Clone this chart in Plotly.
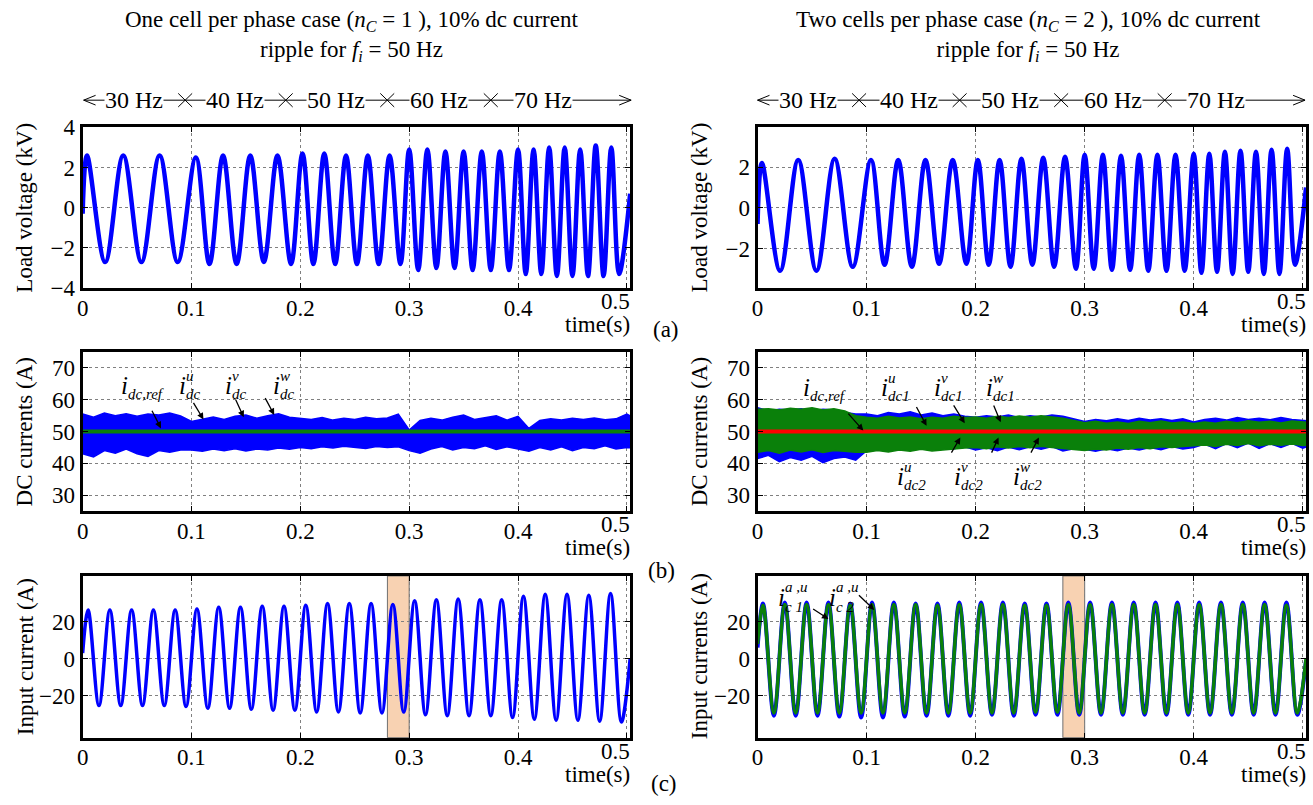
import plotly.graph_objects as go

W, H = 1313, 805
SERIF = "Liberation Serif"
BLUE = "#0000ff"
GREEN = "#0a800a"
RED = "#ff0000"
FS = 23

# ---------------- data ----------------
T_END = 0.503
X_TICKS = [0, 0.1, 0.2, 0.3, 0.4, 0.5]
X_TICKTEXT = ["0", "0.1", "0.2", "0.3", "0.4", ""]
FREQ_LABELS = ["30 Hz", "40 Hz", "50 Hz", "60 Hz", "70 Hz"]

# load voltage: extrema (peaks / troughs) of the waveform, kV
T_V = [0, 0.004, 0.0207, 0.0373, 0.054, 0.0707, 0.0873, 0.104, 0.1165, 0.129,
       0.1415, 0.154, 0.1665, 0.179, 0.1915, 0.202, 0.212, 0.222, 0.232, 0.242,
       0.252, 0.262, 0.272, 0.282, 0.292, 0.300, 0.3083, 0.3167, 0.325, 0.3333,
       0.3417, 0.35, 0.3583, 0.3667, 0.375, 0.3833, 0.3917, 0.400, 0.4071, 0.4143,
       0.4214, 0.4286, 0.4357, 0.4429, 0.45, 0.4571, 0.4643, 0.4714, 0.4786, 0.4857,
       0.4929, 0.503]
VL = [-0.3, 2.6, -2.7, 2.6, -2.7, 2.6, -2.7, 2.5, -2.8, 2.6,
      -2.8, 2.6, -2.7, 2.6, -2.8, 2.7, -2.8, 2.7, -2.8, 2.6,
      -2.8, 2.6, -2.8, 2.6, -2.8, 2.9, -3.1, 2.9, -3.0, 2.8,
      -3.0, 2.8, -3.1, 2.8, -3.1, 2.8, -3.1, 2.9, -3.3, 2.9,
      -3.3, 3.0, -3.4, 3.0, -3.4, 2.9, -3.4, 3.1, -3.4, 3.0,
      -3.3, 0.7]
VR = [-0.8, 2.2, -3.1, 2.35, -3.1, 2.4, -2.9, 2.35, -2.8, 2.35,
      -2.9, 2.35, -2.75, 2.35, -2.75, 2.35, -2.8, 2.35, -2.9, 2.4,
      -2.8, 2.45, -2.9, 2.5, -3.0, 2.6, -3.0, 2.6, -3.05, 2.55,
      -3.05, 2.6, -3.1, 2.6, -3.1, 2.6, -3.1, 2.65, -3.2, 2.65,
      -3.15, 2.75, -3.25, 2.8, -3.15, 2.75, -3.25, 2.85, -3.25, 2.9,
      -2.8, 1.0]

# dc currents: envelope of the rippled band, sampled every 10 ms, A
DC_T0 = 0
DC_DT = 0.01
DC_REF = 50
DCL_UP = [55.5, 54.5, 55.8, 55.0, 55.6, 54.8, 55.5, 55.2, 55.8, 54.9,
          53.2, 54.0, 54.6, 53.8, 54.8, 55.2, 54.2, 55.0, 55.6, 54.5,
          54.2, 53.8, 54.4, 53.6, 54.2, 53.8, 54.5, 54.0, 54.3, 55.5,
          50.5, 53.5, 54.2, 53.6, 54.5, 55.2, 53.8, 54.4, 55.0, 53.6,
          54.8, 51.0, 53.5, 54.0, 53.6, 54.2, 53.8, 54.3, 53.7, 54.0,
          55.5, 53.5]
DCL_LO = [43.0, 42.0, 44.0, 43.2, 44.5, 43.0, 42.2, 44.0, 43.5, 44.2,
          44.2, 43.8, 44.5, 44.0, 44.6, 43.9, 44.5, 44.2, 44.8, 44.4,
          45.0, 44.6, 45.2, 44.8, 45.4, 45.0, 44.7, 45.3, 45.0, 45.2,
          44.0, 43.2, 44.5, 45.3, 44.2, 45.0, 44.6, 45.5, 44.4, 45.2,
          44.5, 43.8, 45.0, 44.2, 45.2, 44.0, 45.0, 44.6, 45.5, 44.5,
          45.0, 44.8]
DCR_B_UP = [57.5, 56.5, 57.0, 56.8, 57.2, 56.5, 57.0, 56.8, 56.0, 55.5,
            55.5, 55.0, 56.0, 55.5, 56.2, 55.2, 55.8, 55.0, 55.5, 54.8,
            54.5, 55.0, 54.6, 55.2, 54.4, 55.0, 54.6, 55.2, 54.8, 54.0,
            53.2, 53.8, 53.4, 54.0, 53.5, 54.2, 53.6, 54.0, 53.5, 54.0,
            53.0, 53.8, 54.2, 53.6, 54.4, 53.8, 54.2, 53.7, 54.4, 53.8,
            53.5, 53.2]
DCR_B_LO = [41.5, 42.5, 40.5, 41.8, 41.0, 42.2, 40.2, 41.5, 42.0, 41.0,
            44.0, 44.5, 44.2, 44.8, 44.3, 44.9, 44.5, 45.0, 44.6, 45.2,
            44.2, 44.9, 44.0, 45.1, 44.3, 45.2, 44.4, 45.3, 43.9, 44.6,
            44.4, 43.8, 44.6, 44.0, 44.8, 44.2, 45.0, 44.3, 45.3, 44.5,
            45.0, 46.1, 44.6, 46.2, 44.9, 46.4, 44.7, 46.2, 45.0, 46.3,
            44.8, 46.0]
DCR_G_UP = [57.0, 57.2, 56.8, 57.3, 57.0, 57.5, 56.8, 57.2, 56.5, 55.0,
            54.5, 54.2, 54.8, 54.3, 54.6, 54.0, 54.5, 54.2, 54.8, 54.4,
            54.6, 54.2, 54.8, 54.4, 54.9, 54.5, 55.0, 54.6, 54.2, 53.5,
            52.8, 53.2, 52.6, 53.0, 52.5, 53.2, 52.8, 53.3, 52.7, 53.0,
            52.5, 53.0, 52.6, 53.2, 52.8, 53.4, 52.9, 53.2, 52.7, 53.3,
            53.0, 52.8]
DCR_G_LO = [43.5, 44.0, 43.2, 44.2, 43.6, 44.3, 43.4, 44.0, 43.8, 43.5,
            43.5, 44.0, 43.6, 44.2, 43.8, 44.4, 43.9, 44.3, 44.5, 44.8,
            45.0, 44.6, 45.2, 44.8, 45.3, 44.9, 45.4, 45.0, 44.7, 44.2,
            44.0, 44.5, 44.2, 44.8, 44.4, 45.0, 44.6, 45.2, 45.0, 45.3,
            45.5, 45.8, 45.3, 46.0, 45.6, 46.2, 45.5, 46.0, 45.7, 46.1,
            45.6, 45.9]

# input currents: extrema of the 50 Hz waveform, A
T_I = [0, 0.005, 0.015, 0.025, 0.035, 0.045, 0.055, 0.065, 0.075, 0.085,
       0.095, 0.105, 0.115, 0.125, 0.135, 0.145, 0.155, 0.165, 0.175, 0.185,
       0.195, 0.205, 0.215, 0.225, 0.235, 0.245, 0.255, 0.265, 0.275, 0.285,
       0.295, 0.305, 0.315, 0.325, 0.335, 0.345, 0.355, 0.365, 0.375, 0.385,
       0.395, 0.405, 0.415, 0.425, 0.435, 0.445, 0.455, 0.465, 0.475, 0.485,
       0.495, 0.503]
IL = [3, 26.5, -25.5, 26.5, -25.5, 26.5, -25.5, 26.5, -25.5, 26.5,
      -26, 27, -27, 28, -27, 28, -27.5, 28.5, -28, 28.5,
      -28, 29, -29, 30, -29, 30, -29.5, 30, -29.5, 29.5,
      -29, 31.5, -30.5, 32, -31, 32.5, -31, 32, -31, 32,
      -32, 34, -33, 35, -33.5, 35, -33.5, 34.5, -34, 35.5,
      -34.5, 0]
IR_B = [6, 30, -31, 30.5, -31, 30.5, -31, 30.5, -31.5, 30,
        -32, 30.5, -32, 30.5, -31.5, 30, -31, 30, -31, 30.5,
        -31, 30.5, -30.5, 30.5, -31, 30, -30.5, 30, -30.5, 30.5,
        -30.5, 30.5, -30.5, 30.5, -30.5, 30.5, -30.5, 30.5, -30.5, 30.5,
        -30.5, 30.5, -30.5, 30.5, -30.5, 30.5, -30.5, 30.5, -30.5, 30.5,
        -30.5, -1]
IR_G = [8, 29, -29.5, 29.5, -29.5, 29.5, -29.5, 29.5, -29.5, 29,
        -29.5, 29.5, -29.5, 29.5, -29.5, 29.5, -29.5, 29, -29.5, 29.5,
        -29.5, 29.5, -29.5, 29.5, -29.5, 29, -29, 29, -29, 29.5,
        -29.5, 29.5, -29.5, 29.5, -29.5, 29.5, -29.5, 29.5, -29.5, 29.5,
        -29.5, 29.5, -29.5, 29.5, -29.5, 29.5, -29.5, 29.5, -29.5, 29,
        -29.5, 0]
SHADE = [0.28, 0.30]

# ---------------- helpers ----------------
def px(x):
    return x / W


def py(y):
    return 1 - y / H


AX = dict(showline=True, linecolor="black", linewidth=3, mirror="ticks",
          ticks="inside", ticklen=5, tickwidth=1, tickcolor="black",
          showgrid=True, gridcolor="#808080", griddash="dot", gridwidth=1,
          zeroline=False, fixedrange=True,
          tickfont=dict(family=SERIF, size=FS, color="black"))

XL = [px(77), px(627)]
XR = [px(755), px(1306)]
ROWS = [[py(285), py(119)], [py(515), py(351)], [py(749), py(582)]]

fig = go.Figure()


def line_trace(x, y, ax, color, width):
    fig.add_trace(go.Scatter(x=x, y=y, mode="lines", xaxis="x" + ax, yaxis="y" + ax,
                             line=dict(color=color, width=width, shape="spline", smoothing=1.0),
                             hoverinfo="skip"))


def band(up, lo, ax, color):
    fig.add_trace(go.Scatter(x0=DC_T0, dx=DC_DT, y=up, mode="lines", xaxis="x" + ax, yaxis="y" + ax,
                             line=dict(color=color, width=1.5), hoverinfo="skip"))
    fig.add_trace(go.Scatter(x0=DC_T0, dx=DC_DT, y=lo, mode="lines", xaxis="x" + ax, yaxis="y" + ax,
                             fill="tonexty", fillcolor=color,
                             line=dict(color=color, width=1.5), hoverinfo="skip"))


def ref_line(ax, color):
    fig.add_trace(go.Scatter(x=[0, T_END], y=[DC_REF, DC_REF], mode="lines",
                             xaxis="x" + ax, yaxis="y" + ax,
                             line=dict(color=color, width=4), hoverinfo="skip"))


line_trace(T_V, VL, "", BLUE, 4.5)
line_trace(T_V, VR, "2", BLUE, 4.5)
band(DCL_UP, DCL_LO, "3", BLUE)
ref_line("3", GREEN)
band(DCR_B_UP, DCR_B_LO, "4", BLUE)
band(DCR_G_UP, DCR_G_LO, "4", GREEN)
ref_line("4", RED)
line_trace(T_I, IL, "5", BLUE, 3.5)
line_trace(T_I, IR_B, "6", BLUE, 4)
line_trace(T_I, IR_G, "6", GREEN, 3.5)

layout = dict(width=W, height=H, margin=dict(l=0, r=0, t=0, b=0),
              paper_bgcolor="white", plot_bgcolor="white", showlegend=False)

yspecs = [
    ([-4, 4], [-4, -2, 0, 2, 4]),
    ([-3.95, 3.95], [-2, 0, 2]),
    ([25, 75], [30, 40, 50, 60, 70]),
    ([25, 75], [30, 40, 50, 60, 70]),
    ([-43, 45], [-20, 0, 20]),
    ([-43, 45], [-20, 0, 20]),
]
for i in range(6):
    n = "" if i == 0 else str(i + 1)
    xd = XL if i % 2 == 0 else XR
    yd = ROWS[i // 2]
    layout["xaxis" + n] = dict(AX, domain=xd, anchor="y" + n, range=[0, T_END],
                               tickvals=X_TICKS, ticktext=X_TICKTEXT, ticklabelstandoff=-3)
    layout["yaxis" + n] = dict(AX, domain=yd, anchor="x" + n, range=yspecs[i][0],
                               tickvals=yspecs[i][1])

anns = []
shapes = []
F = dict(family=SERIF, color="black")

# titles
TITLES = [
    "One cell per phase case (<i>n</i><sub><i>C</i></sub> = 1 ), 10% dc current<br>ripple for <i>f</i><sub><i>i</i></sub> = 50 Hz",
    "Two cells per phase case (<i>n</i><sub><i>C</i></sub> = 2 ), 10% dc current<br>ripple for <i>f</i><sub><i>i</i></sub> = 50 Hz",
]
for cx, t in zip([347, 1027], TITLES):
    anns.append(dict(xref="paper", yref="paper", x=px(cx), y=py(25), text=t, showarrow=False,
                     xanchor="center", yanchor="middle", font=dict(F, size=FS)))

# frequency strips
for ox in (0, 677):
    y0 = 91
    shapes.append(dict(type="line", xref="paper", yref="paper", x0=px(78 + ox), x1=px(628 + ox),
                       y0=py(y0), y1=py(y0), line=dict(color="black", width=1)))
    for a, b in ((78, 90), (628, 616)):
        for dy in (-5, 5):
            shapes.append(dict(type="line", xref="paper", yref="paper", x0=px(a + ox), x1=px(b + ox),
                               y0=py(y0), y1=py(y0 + dy), line=dict(color="black", width=1)))
    for c in (180, 281, 383, 487):
        for d in (-1, 1):
            shapes.append(dict(type="line", xref="paper", yref="paper", x0=px(c - 7 + ox), x1=px(c + 7 + ox),
                               y0=py(y0 - 7 * d), y1=py(y0 + 7 * d), line=dict(color="black", width=1)))
    for c, lab in zip((129, 230, 332, 435, 539), FREQ_LABELS):
        anns.append(dict(xref="paper", yref="paper", x=px(c + ox), y=py(y0), text=lab, showarrow=False,
                         xanchor="center", yanchor="middle", bgcolor="white", borderpad=0,
                         font=dict(F, size=24)))

# y-axis titles
YT = [("Load voltage (kV)", 19, 202), ("Load voltage (kV)", 697, 202),
      ("DC currents (A)", 19, 433), ("DC currents (A)", 697, 433),
      ("Input current (A)", 19, 665), ("Input currents (A)", 697, 665)]
for t, x, y in YT:
    anns.append(dict(xref="paper", yref="paper", x=px(x), y=py(y), text=t, showarrow=False,
                     textangle=-90, xanchor="center", yanchor="middle", font=dict(F, size=FS)))

# "0.5" end labels and time(s)
for i in range(6):
    n = "" if i == 0 else str(i + 1)
    anns.append(dict(xref="x" + n + " domain", yref="y" + n + " domain", x=1.0, y=0, text="0.5",
                     showarrow=False, xanchor="right", yanchor="top", yshift=1, xshift=2,
                     font=dict(F, size=FS)))
    anns.append(dict(xref="x" + n + " domain", yref="y" + n + " domain", x=1.0, y=0, text="time(s)",
                     showarrow=False, xanchor="right", yanchor="top", yshift=-22, xshift=2,
                     font=dict(F, size=FS)))

for t, x, y in (("(a)", 663, 328), ("(b)", 659, 576), ("(c)", 661, 796)):
    anns.append(dict(xref="paper", yref="paper", x=px(x), y=py(y), text=t, showarrow=False,
                     xanchor="center", yanchor="middle", font=dict(F, size=FS)))


def mlabel(ax, x, y, sub=None, sup=None, bs=25, ss=15, dx=7, up=9, dn=9):
    xr, yr = "x" + ax, "y" + ax
    anns.append(dict(xref=xr, yref=yr, x=x, y=y, text="<i>i</i>", showarrow=False,
                     xanchor="left", yanchor="middle", font=dict(F, size=bs)))
    if sup:
        anns.append(dict(xref=xr, yref=yr, x=x, y=y, text="<i>" + sup + "</i>", showarrow=False,
                         xanchor="left", yanchor="middle", xshift=dx, yshift=up, font=dict(F, size=ss)))
    if sub:
        anns.append(dict(xref=xr, yref=yr, x=x, y=y, text="<i>" + sub + "</i>", showarrow=False,
                         xanchor="left", yanchor="middle", xshift=dx, yshift=-dn, font=dict(F, size=ss)))


def arrow(ax, x0, y0, x1, y1):
    xr, yr = "x" + ax, "y" + ax
    anns.append(dict(xref=xr, yref=yr, axref=xr, ayref=yr, x=x1, y=y1, ax=x0, ay=y0, text="",
                     showarrow=True, arrowhead=2, arrowsize=1, arrowwidth=1.3, arrowcolor="black"))


# labels on dc current panels
DCL_LABELS = [("dc,ref", None, 0.033, 64.5), ("dc", "u", 0.087, 64.5), ("dc", "v", 0.129, 64.5),
              ("dc", "w", 0.173, 64.5)]
DCL_ARROWS = [(0.063, 57, 0.072, 51), (0.101, 59.5, 0.111, 53.8), (0.140, 60.5, 0.148, 54.5),
              (0.167, 61, 0.176, 55.2)]
for sub, sup, x, y in DCL_LABELS:
    mlabel("3", x, y, sub, sup)
for a in DCL_ARROWS:
    arrow("3", *a)

DCR_LABELS = [("dc,ref", None, 0.040, 64), ("dc1", "u", 0.111, 64), ("dc1", "v", 0.160, 64),
              ("dc1", "w", 0.208, 64), ("dc2", "u", 0.126, 36), ("dc2", "v", 0.178, 36),
              ("dc2", "w", 0.232, 36)]
DCR_ARROWS = [(0.082, 56.1, 0.097, 50.3), (0.145, 58.2, 0.155, 51.8), (0.179, 58.7, 0.19, 52.6),
              (0.216, 58.7, 0.223, 52.9), (0.177, 42.9, 0.186, 48.1), (0.214, 42.9, 0.221, 48.1),
              (0.25, 42.9, 0.258, 48.1)]
for sub, sup, x, y in DCR_LABELS:
    mlabel("4", x, y, sub, sup)
for a in DCR_ARROWS:
    arrow("4", *a)

IR_LABELS = [("c 1", "a ,u", 0.017, 33), ("c 2", "a ,u", 0.064, 33)]
IR_ARROWS = [(0.0496, 27.5, 0.065, 21.6), (0.0916, 35.3, 0.107, 26.5)]
for sub, sup, x, y in IR_LABELS:
    mlabel("6", x, y, sub, sup, up=11, dn=9)
for a in IR_ARROWS:
    arrow("6", *a)

# shaded window on input current panels
for n in ("5", "6"):
    shapes.append(dict(type="rect", xref="x" + n, yref="y" + n + " domain", x0=SHADE[0], x1=SHADE[1],
                       y0=0, y1=1, fillcolor="#f8d2b2", line=dict(color="#707070", width=1),
                       layer="below"))

layout["annotations"] = anns
layout["shapes"] = shapes
fig.update_layout(**layout)
fig.write_html("out.html", config={"displayModeBar": False},
               post_script="document.body.style.margin='0';document.body.style.overflow='hidden';")
